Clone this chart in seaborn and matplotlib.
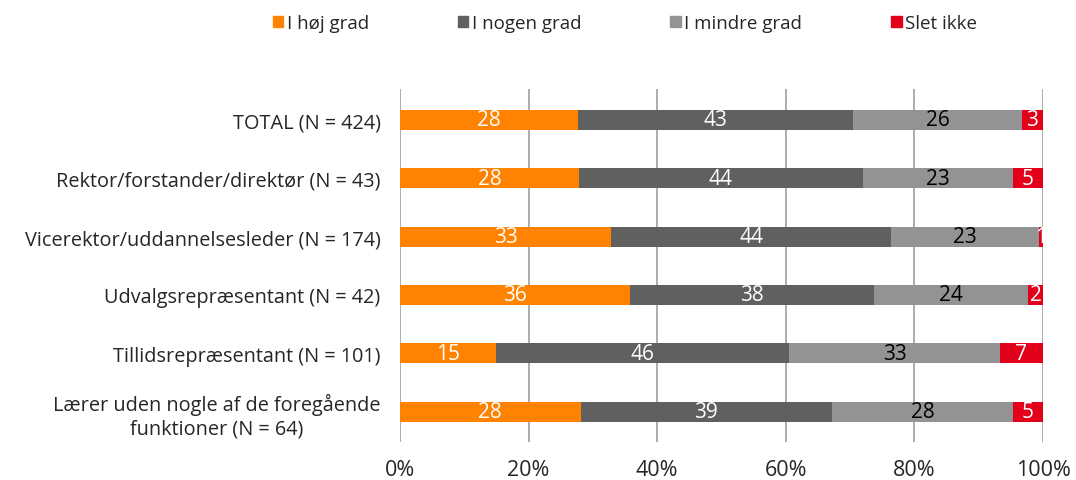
import numpy as np
import pandas as pd
import matplotlib
matplotlib.use('Agg')
import matplotlib.pyplot as plt
import seaborn as sns
from matplotlib.patches import Patch

groups = ['TOTAL (N = 424)', 'Rektor/forstander/direktør (N = 43)',
          'Vicerektor/uddannelsesleder (N = 174)', 'Udvalgsrepræsentant (N = 42)',
          'Tillidsrepræsentant (N = 101)',
          'Lærer uden nogle af de foregående\nfunktioner (N = 64)']
series = ['I høj grad', 'I nogen grad', 'I mindre grad', 'Slet ikke']
hoej = [27.7, 27.8, 32.8, 35.8, 14.9, 28.1]
nogen = [42.8, 44.2, 43.6, 37.9, 45.6, 39.1]
mindre = [26.2, 23.3, 23.0, 24.0, 32.8, 28.1]
slet = [3.3, 4.7, 0.6, 2.3, 6.7, 4.7]
colors = ['#FF8200', '#606060', '#939393', '#E2001A']
text_colors = ['white', 'white', 'black', 'white']

df = pd.DataFrame({'group': groups, series[0]: hoej, series[1]: nogen,
                   series[2]: mindre, series[3]: slet})

sns.set_style('white')
plt.rcParams['font.family'] = ['Open Sans', 'DejaVu Sans']

fig = plt.figure(figsize=(10.76, 4.81), dpi=100)
ax = fig.add_axes([400 / 1076, 1 - 443 / 481, 643 / 1076, 353 / 481])

# stacked bars: draw cumulative totals from the back to the front
cum = df[series].cumsum(axis=1)
for i in range(len(series) - 1, -1, -1):
    sns.barplot(x=cum[series[i]], y=df['group'], orient='h', color=colors[i],
                width=0.34, ax=ax, saturation=1, linewidth=0)

for i, s in enumerate(series):
    mids = cum[s] - df[s] / 2
    for j, (m, v) in enumerate(zip(mids, df[s])):
        ax.text(m, j, f'{round(v):.0f}', ha='center', va='center',
                color=text_colors[i], fontsize=15)

ax.set_xlim(0, 100)
ax.set_ylim(5.52, -0.53)
ax.set_xticks(range(0, 101, 20))
ax.set_xticklabels([f'{t}%' for t in range(0, 101, 20)], fontsize=15.5)
ax.set_yticklabels(groups, fontsize=14.3, multialignment='center')
ax.set_xlabel('')
ax.set_ylabel('')
ax.tick_params(axis='x', length=0, pad=12)
ax.tick_params(axis='y', length=0, pad=14)
for sp in ax.spines.values():
    sp.set_visible(False)
ax.xaxis.grid(True, color='#a6a6a6', linewidth=1.3)
ax.set_axisbelow(True)

handles = [Patch(color=c, label=s) for c, s in zip(colors, series)]
fig.legend(handles=handles, loc='center', bbox_to_anchor=(625 / 1076, 1 - 24 / 481),
           ncol=4, frameon=False, fontsize=13.5, handlelength=0.55, handleheight=0.55,
           handletextpad=0.2, columnspacing=4.75)

fig.savefig('out.png', dpi=100)
